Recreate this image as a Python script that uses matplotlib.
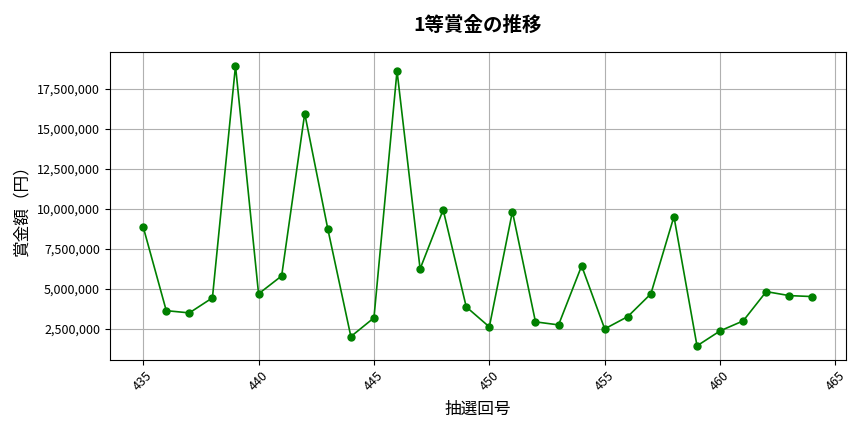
import matplotlib
matplotlib.use("Agg")
import matplotlib.pyplot as plt
from matplotlib.ticker import FuncFormatter

plt.rcParams['font.family'] = ['Noto Sans CJK JP', 'DejaVu Sans']

draws = list(range(435, 465))
prizes = [8875000, 3640000, 3500000, 4440000, 18940000, 4690000, 5810000, 15960000,
          8750000, 2020000, 3190000, 18625000, 6250000, 9940000, 3875000, 2625000,
          9830000, 2940000, 2750000, 6440000, 2500000, 3270000, 4690000, 9520000,
          1440000, 2375000, 3000000, 4830000, 4580000, 4520000]

title = "1等賞金の推移"
xlabel = "抽選回号"
ylabel = "賞金額（円）"

fig, ax = plt.subplots(figsize=(8.64, 4.32), dpi=100)
ax.plot(draws, prizes, color='green', marker='o', markersize=5, linewidth=1.2)
ax.set_title(title, fontsize=14, fontweight='bold', pad=15)
ax.set_xlabel(xlabel, fontsize=12, labelpad=5)
ax.set_ylabel(ylabel, fontsize=12, labelpad=5)
ax.yaxis.set_major_formatter(FuncFormatter(lambda v, p: f"{int(v):,}"))
ax.grid(True, color='#b0b0b0', linewidth=0.8)
plt.setp(ax.get_xticklabels(), rotation=45)
ax.tick_params(labelsize=9)
fig.subplots_adjust(left=0.127, right=0.979, top=0.88, bottom=0.167)
fig.savefig("out.png", dpi=100)
